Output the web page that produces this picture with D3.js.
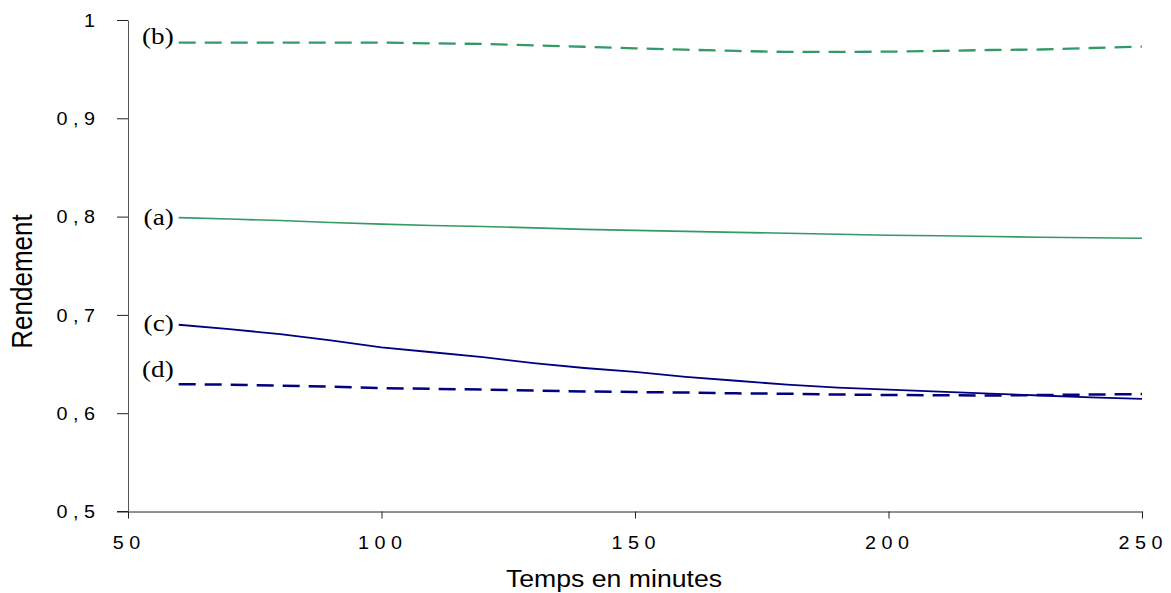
<!DOCTYPE html>
<html><head><meta charset="utf-8">
<script src="https://cdn.jsdelivr.net/npm/d3@7"></script>
<style>body{margin:0;background:#fff}svg{display:block}</style>
</head><body>
<svg id="c" width="1171" height="593"></svg>
<script>
const times = [60,70,80,90,100,110,120,130,140,150,160,170,180,190,200,210,220,230,240,250];
const serieA = [0.799,0.7975,0.796,0.794,0.7923,0.791,0.790,0.7885,0.787,0.786,0.785,0.784,0.783,0.782,0.781,0.7805,0.7798,0.779,0.7785,0.778];
const serieB = [0.977,0.977,0.977,0.977,0.977,0.9762,0.9756,0.9742,0.9728,0.9712,0.9698,0.9685,0.9675,0.9675,0.9678,0.9685,0.9695,0.970,0.9715,0.973];
const serieC = [0.690,0.6855,0.6805,0.674,0.667,0.662,0.657,0.651,0.646,0.642,0.637,0.633,0.629,0.626,0.624,0.622,0.620,0.618,0.616,0.6145];
const serieD = [0.6295,0.629,0.628,0.627,0.6255,0.6248,0.624,0.623,0.6222,0.6215,0.621,0.6202,0.6198,0.619,0.6185,0.6183,0.618,0.6185,0.619,0.6195];
const xTicks = [50,100,150,200,250];
const xTickLabels = ["5 0","1 0 0","1 5 0","2 0 0","2 5 0"];
const yTicks = [0.5,0.6,0.7,0.8,0.9,1];
const yTickLabels = ["0 , 5","0 , 6","0 , 7","0 , 8","0 , 9","1"];
const seriesNames = ["(a)","(b)","(c)","(d)"];
const labelValues = [0.80,0.9835,0.6915,0.6445];

const SANS = "Arial, 'Liberation Sans', sans-serif";
const SERIF = "'Times New Roman','Liberation Serif',serif";
const SX = 1.13; // horizontal stretch of the original picture's text

const svg = d3.select("#c");
const x = d3.scaleLinear().domain([50,250]).range([128,1142]);
const y = d3.scaleLinear().domain([0.5,1]).range([511.5,20]);

const xAxis = d3.axisBottom(x).tickValues(xTicks).tickSize(7).tickSizeOuter(0)
  .tickFormat((d,i)=>xTickLabels[i]);
const gx = svg.append("g").attr("transform","translate(0,511.5)").call(xAxis);
gx.select(".domain").attr("stroke","#222");
gx.selectAll(".tick line").attr("stroke","#222");
gx.selectAll(".tick text").attr("font-family",SANS).attr("font-size",17.5).attr("fill","#000")
  .attr("y",0).attr("dy",0).attr("transform",`translate(-2,37.5) scale(${SX},1)`);

const yAxis = d3.axisLeft(y).tickValues(yTicks).tickSize(11).tickSizeOuter(0)
  .tickFormat((d,i)=>yTickLabels[i]);
const gy = svg.append("g").attr("transform","translate(128,0)").call(yAxis);
gy.select(".domain").attr("stroke","#555");
gy.selectAll(".tick line").attr("stroke","#222");
gy.selectAll(".tick text").attr("font-family",SANS).attr("font-size",17.5).attr("fill","#000")
  .attr("x",0).attr("dy","0.36em").attr("transform",`translate(-33,0) scale(${SX},1)`);
svg.append("line").attr("x1",117).attr("x2",128).attr("y1",511.5).attr("y2",511.5).attr("stroke","#222");

const series = [
  {vals:serieA, color:"#339966", dash:null, w:1.6},
  {vals:serieB, color:"#339966", dash:"17,9", w:2.3},
  {vals:serieC, color:"#000080", dash:null, w:1.8},
  {vals:serieD, color:"#000080", dash:"17,9", w:2.5}
];
const line = d3.line().x((d,i)=>x(times[i])).y(d=>y(d));
series.forEach(s=>{
  svg.append("path").datum(s.vals).attr("d",line).attr("fill","none")
    .attr("stroke",s.color).attr("stroke-width",s.w)
    .attr("stroke-dasharray",s.dash);
});
seriesNames.forEach((n,i)=>{
  svg.append("text")
    .attr("transform",`translate(${x(times[0])-5},${y(labelValues[i])}) scale(${SX},1)`)
    .attr("dy","0.33em").attr("text-anchor","end")
    .attr("font-family",SERIF).attr("font-size",24)
    .text(n);
});

svg.append("text").attr("transform",`translate(614,587) scale(1.11,1)`).attr("text-anchor","middle")
  .attr("font-family",SANS).attr("font-size",24).text("Temps en minutes");
svg.append("text").attr("transform",`translate(32,281.5) scale(${SX},1) rotate(-90)`).attr("text-anchor","middle")
  .attr("font-family",SANS).attr("font-size",26).text("Rendement");
</script>
</body></html>
